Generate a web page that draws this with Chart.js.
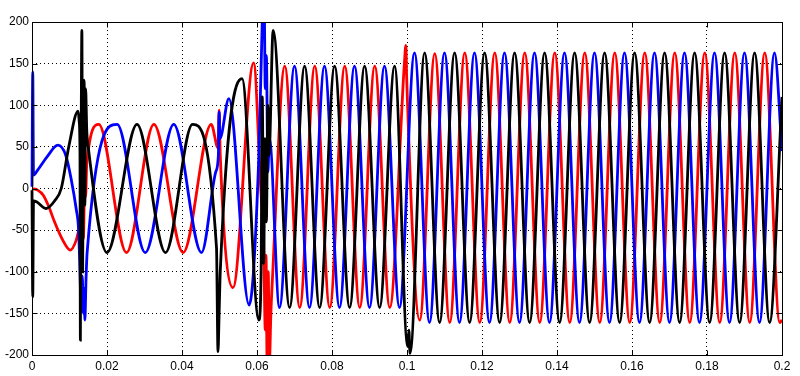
<!DOCTYPE html>
<html>
<head>
<meta charset="utf-8">
<script src="https://cdn.jsdelivr.net/npm/chart.js@4"></script>
<style>
  html, body { margin: 0; padding: 0; background: #fff; }
  #wrap { width: 800px; height: 376px; }
</style>
</head>
<body>
<div id="wrap"><canvas id="myChart" width="800" height="376"></canvas></div>
<script>
// axis ticks
const xTicks = [0, 0.02, 0.04, 0.06, 0.08, 0.1, 0.12, 0.14, 0.16, 0.18, 0.2];
const xTickLabels = ['0', '0.02', '0.04', '0.06', '0.08', '0.1', '0.12', '0.14', '0.16', '0.18', '0.2'];
const yTicks = [-200, -150, -100, -50, 0, 50, 100, 150, 200];
const yTickLabels = ['-200', '-150', '-100', '-50', '0', '50', '100', '150', '200'];

// phase currents (time in s, current)
const redTime = [0, 0.0015, 0.003, 0.0045, 0.006, 0.0082, 0.0102, 0.0118, 0.0125, 0.0130,
  0.0134, 0.0137, 0.0141, 0.0143, 0.0146, 0.0178, 0.0252, 0.0325, 0.0403, 0.0478,
  0.0496, 0.0499, 0.0502, 0.0536, 0.0591, 0.0610, 0.0618, 0.0622, 0.0624, 0.0627,
  0.0630, 0.0633, 0.0637, 0.0641, 0.0674, 0.0714, 0.0754, 0.0794, 0.0834, 0.0874,
  0.0914, 0.0954, 0.0993, 0.0997, 0.0999, 0.1034,
  0.1074, 0.1114, 0.1154, 0.1194, 0.1234, 0.1274, 0.1314, 0.1354, 0.1394, 0.1434, 0.1474, 0.1514,
  0.1554, 0.1594, 0.1634, 0.1674, 0.1714, 0.1754, 0.1794, 0.1834, 0.1874, 0.1914, 0.1954, 0.1994,
  0.2];
const redCurrent = [0, -2, -8, -22, -40, -62, -74, -62, -50, -45,
  -30, -60, 20, -10, 30, 77, -77, 77, -77, 77,
  49, 94, 40, -119, 151, 0, -70, -170, -80, -210,
  -100, -210, -150, -110, 147, -143, 147, -143, 147, -143,
  147, -143, 150, 172, 135, -158,
  162, -161, 163, -161, 163, -161, 163, -161, 163, -161, 163, -161,
  163, -161, 163, -161, 163, -161, 163, -161, 163, -161, 163, -161,
  -158];

const blueTime = [0, 0.0002, 0.0004, 0.0015, 0.004, 0.0069, 0.0090, 0.0105, 0.0118, 0.0124, 0.0128,
  0.0131, 0.0134, 0.0137, 0.0139, 0.0141, 0.0144, 0.0147, 0.0227, 0.0302, 0.0378,
  0.0452, 0.0490, 0.0497, 0.0499, 0.0501, 0.0525, 0.0579, 0.0605, 0.0614, 0.0619,
  0.0622, 0.0625, 0.0629, 0.0633, 0.0660, 0.0700, 0.0740, 0.0780, 0.0820, 0.0860,
  0.0900, 0.0940, 0.0980,
  0.102, 0.106, 0.110, 0.114, 0.118, 0.122, 0.126, 0.130, 0.134, 0.138, 0.142, 0.146, 0.150,
  0.154, 0.158, 0.162, 0.166, 0.170, 0.174, 0.178, 0.182, 0.186, 0.190, 0.194, 0.198,
  0.2];
const blueCurrent = [2, 140, 16, 22, 38, 52, 40, 10, -25, -48, -100,
  -148, -105, -150, -120, -158, -110, -77, 77, -77, 77,
  -77, 20, 40, 92, 60, 108, -140, 40, 200, 230,
  120, 160, 20, 60, -143, 147, -143, 147, -143, 147,
  -143, 147, -143,
  163, -161, 163, -161, 163, -161, 163, -161, 163, -161, 163, -161, 163,
  -161, 163, -161, 163, -161, 163, -161, 163, -161, 163, -161, 163,
  45];

const blackTime = [0, 0.0002, 0.0004, 0.0012, 0.0038, 0.0060, 0.0078, 0.0098, 0.0123, 0.0126, 0.0128,
  0.0129, 0.0131, 0.0133, 0.0135, 0.0137, 0.0139, 0.0141, 0.0143, 0.0146, 0.0150,
  0.0200, 0.0280, 0.0356, 0.0428, 0.0492, 0.0496, 0.0499, 0.0502, 0.0560, 0.0605,
  0.0611, 0.0614, 0.0618, 0.0621, 0.0625, 0.0629, 0.0632, 0.0643, 0.0687, 0.0727,
  0.0767, 0.0807, 0.0847, 0.0887, 0.0927, 0.0967, 0.1002, 0.1005, 0.1008,
  0.1047, 0.1087, 0.1127, 0.1167, 0.1207, 0.1247, 0.1287, 0.1327, 0.1367, 0.1407, 0.1447, 0.1487,
  0.1527, 0.1567, 0.1607, 0.1647, 0.1687, 0.1727, 0.1767, 0.1807, 0.1847, 0.1887, 0.1927, 0.1967,
  0.2];
const blackCurrent = [-2, -130, -15, -16, -24, -15, 0, 50, 93, 80, 40,
  -182, 50, 190, -100, 60, 130, -20, 120, 70, 50,
  -77, 77, -77, 77, -71, -196, -150, -100, 132, -158,
  -100, 110, -90, 60, -40, 100, 40, 190, -143, 147,
  -143, 147, -143, 147, -143, 147, -190, -170, -198,
  163, -161, 163, -161, 163, -161, 163, -161, 163, -161, 163, -161,
  163, -161, 163, -161, 163, -161, 163, -161, 163, -161, 163, -161,
  110];

function toPoints(ts, vs) {
  if (ts.length !== vs.length) console.error('length mismatch', ts.length, vs.length);
  return ts.map((t, i) => ({x: t, y: vs[i]}));
}

// matlab style box with inward tick marks
const boxPlugin = {
  id: 'box',
  afterDatasetsDraw(chart) {
    const {ctx, chartArea: a, scales} = chart;
    const L = Math.round(a.left) + 0.5, R = Math.round(a.right) + 0.5;
    const T = Math.round(a.top) + 0.5, B = Math.round(a.bottom) + 0.5;
    ctx.save();
    ctx.setLineDash([]);
    ctx.strokeStyle = '#000';
    ctx.lineWidth = 1;
    ctx.beginPath();
    xTicks.forEach(v => {
      const px = Math.round(scales.x.getPixelForValue(v)) + 0.5;
      ctx.moveTo(px, B); ctx.lineTo(px, B - 5);
      ctx.moveTo(px, T); ctx.lineTo(px, T + 5);
    });
    yTicks.forEach(v => {
      const py = Math.round(scales.y.getPixelForValue(v)) + 0.5;
      ctx.moveTo(L, py); ctx.lineTo(L + 5, py);
      ctx.moveTo(R, py); ctx.lineTo(R - 5, py);
    });
    ctx.stroke();
    ctx.strokeRect(L, T, R - L, B - T);
    ctx.restore();
  }
};

const font = {family: "'Liberation Sans', Arial, sans-serif", size: 12};
const line = (pts, color, order) => ({
  data: pts,
  borderColor: color,
  backgroundColor: color,
  borderWidth: 2.8,
  pointRadius: 0,
  cubicInterpolationMode: 'monotone',
  fill: false,
  clip: {left: 2, right: 0, top: 0, bottom: 0},
  order: order
});

const ctx = document.getElementById('myChart');
new Chart(ctx, {
  type: 'line',
  data: {
    datasets: [
      line(toPoints(blackTime, blackCurrent), '#000000', 0),
      line(toPoints(blueTime, blueCurrent), '#0000ff', 1),
      line(toPoints(redTime, redCurrent), '#ff0000', 2)
    ]
  },
  options: {
    responsive: false,
    animation: false,
    layout: {padding: {top: 22, right: 18, left: 0, bottom: 0}},
    plugins: {legend: {display: false}, tooltip: {enabled: false}},
    scales: {
      x: {
        type: 'linear',
        min: 0,
        max: 0.2,
        afterBuildTicks: s => { s.ticks = xTicks.map(v => ({value: v})); },
        afterFit: s => { s.height = 21; },
        grid: {color: '#000', lineWidth: 1, drawTicks: false},
        border: {display: false, dash: [1, 3]},
        ticks: {
          font: font,
          color: '#000',
          padding: 4,
          maxRotation: 0,
          autoSkip: false,
          callback: (v, i) => xTickLabels[i]
        }
      },
      y: {
        min: -200,
        max: 200,
        afterBuildTicks: s => { s.ticks = yTicks.map(v => ({value: v})); },
        afterFit: s => { s.width = 32; },
        grid: {color: '#000', lineWidth: 1, drawTicks: false},
        border: {display: false, dash: [1, 3]},
        ticks: {
          font: font,
          color: '#000',
          padding: 3,
          autoSkip: false,
          callback: (v, i) => yTickLabels[i]
        }
      }
    }
  },
  plugins: [boxPlugin]
});
</script>
</body>
</html>
